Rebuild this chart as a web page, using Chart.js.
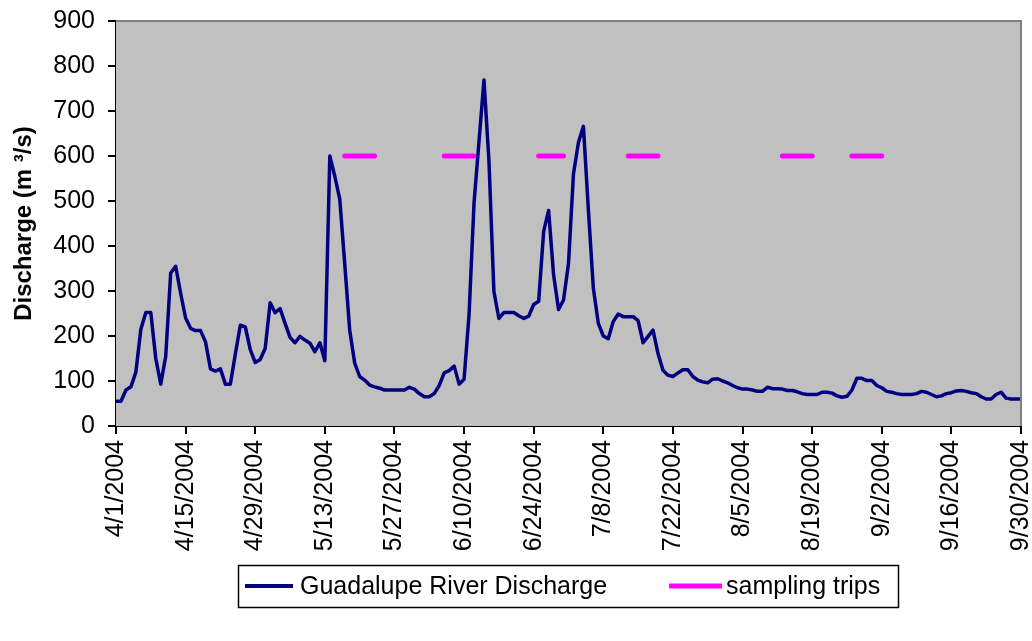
<!DOCTYPE html>
<html><head><meta charset="utf-8">
<script src="https://cdn.jsdelivr.net/npm/chart.js@4/dist/chart.umd.min.js"></script>
<style>html,body{margin:0;padding:0;background:#fff}canvas{display:block}</style>
</head><body>
<canvas id="c" width="1032" height="641"></canvas>
<script>
// Categories: every day from 4/1/2004 to 9/30/2004
const firstDay = '4/1/2004';
const lastDay = '9/30/2004';
const categories = [];
(function(){
  const d = new Date(2004, 3, 1), end = new Date(2004, 8, 30);
  while (d <= end) { categories.push((d.getMonth()+1)+'/'+d.getDate()+'/'+d.getFullYear()); d.setDate(d.getDate()+1); }
})();

// Tick labels shown on the x axis
const tickLabels = ['4/1/2004','4/15/2004','4/29/2004','5/13/2004','5/27/2004','6/10/2004','6/24/2004',
  '7/8/2004','7/22/2004','8/5/2004','8/19/2004','9/2/2004','9/16/2004','9/30/2004'];

// Guadalupe River daily discharge (m3/s)
const discharge = [
  55,55,80,87,120,215,252,252,150,93,
  155,340,355,295,240,217,212,212,187,127,
  122,127,93,93,160,224,220,170,141,148,
  172,274,252,261,228,197,185,199,191,184,
  165,185,145,600,555,504,360,213,140,110,
  102,91,87,84,80,80,80,80,80,86,
  82,72,65,65,72,90,118,123,133,93,
  104,247,495,632,769,590,299,239,252,252,
  252,245,239,244,270,277,432,479,336,259,
  280,361,560,630,666,480,306,228,200,194,
  232,249,243,243,243,234,185,199,213,161,
  124,113,110,118,125,125,110,102,98,96,
  104,105,100,96,90,85,82,82,80,77,
  77,86,83,83,82,79,79,76,72,70,
  70,70,75,75,73,67,64,66,80,106,
  106,101,101,90,85,77,75,72,70,70,
  70,72,77,75,70,65,67,72,74,78,
  79,77,74,72,65,60,60,70,75,62,
  60,60,60
];

// Sampling trips: start and end dates, drawn at a fixed level
const tripStarts = ['5/17/2004','6/6/2004','6/25/2004','7/13/2004','8/13/2004','8/27/2004'];
const tripEnds   = ['5/23/2004','6/12/2004','6/30/2004','7/19/2004','8/19/2004','9/2/2004'];
const tripLevel = 600;

const seriesNames = ['Guadalupe River Discharge','sampling trips'];
const yTitle = 'Discharge (m \u00B3/s)';

const trips = categories.map(() => null);
tripStarts.forEach((s, i) => {
  const a = categories.indexOf(s), b = categories.indexOf(tripEnds[i]);
  for (let k = a; k <= b; k++) trips[k] = tripLevel;
});

const FONT = '"Liberation Sans", Arial, sans-serif';
const AREA = {left:116, top:21, right:1021, bottom:426};

const bgPlugin = {
  id: 'bg',
  beforeDatasetsDraw(chart) {
    const {ctx, chartArea:a} = chart;
    ctx.save();
    ctx.fillStyle = '#C0C0C0';
    ctx.fillRect(a.left, a.top, a.right - a.left, a.bottom - a.top);
    ctx.restore();
  },
  afterDraw(chart) {
    const {ctx, chartArea:a} = chart;
    ctx.save();
    ctx.strokeStyle = '#808080';
    ctx.lineWidth = 2;
    ctx.beginPath();
    ctx.moveTo(a.left, a.top); ctx.lineTo(a.right, a.top); ctx.lineTo(a.right, a.bottom);
    ctx.stroke();
    // legend
    const bx = 238, by = 565, bw = 660, bh = 42, cy = by + bh/2;
    ctx.strokeStyle = '#000'; ctx.lineWidth = 1.5;
    ctx.strokeRect(bx + 0.5, by + 0.5, bw, bh);
    ctx.lineCap = 'butt';
    ctx.strokeStyle = '#000080'; ctx.lineWidth = 4;
    ctx.beginPath(); ctx.moveTo(245, cy); ctx.lineTo(293, cy); ctx.stroke();
    ctx.strokeStyle = '#FF00FF'; ctx.lineWidth = 5;
    ctx.beginPath(); ctx.moveTo(669, cy); ctx.lineTo(722, cy); ctx.stroke();
    ctx.fillStyle = '#000'; ctx.font = '25px ' + FONT;
    ctx.textBaseline = 'middle'; ctx.textAlign = 'left';
    ctx.fillText(seriesNames[0], 300, cy + 1);
    ctx.fillText(seriesNames[1], 726, cy + 1);
    ctx.restore();
  }
};

new Chart(document.getElementById('c'), {
  type: 'line',
  data: {
    labels: categories,
    datasets: [
      { label: seriesNames[0], data: discharge, borderColor: '#000080', borderWidth: 3.5,
        pointRadius: 0, tension: 0, fill: false, borderJoinStyle: 'round' },
      { label: seriesNames[1], data: trips, borderColor: '#FF00FF', borderWidth: 5,
        pointRadius: 0, tension: 0, fill: false, spanGaps: false, borderCapStyle: 'round' }
    ]
  },
  options: {
    responsive: false,
    animation: false,
    devicePixelRatio: 1,
    layout: { padding: { left: 0, top: AREA.top, right: 1032 - AREA.right, bottom: 0 } },
    plugins: { legend: { display: false }, tooltip: { enabled: false } },
    scales: {
      x: {
        type: 'category',
        offset: false,
        border: { display: true, color: '#000', width: 2 },
        grid: { display: true, drawOnChartArea: false, drawTicks: true, tickLength: 8, color: '#000', lineWidth: 2 },
        ticks: {
          autoSkip: false, minRotation: 90, maxRotation: 90, padding: 6,
          color: '#000', font: { family: FONT, size: 25 },
          callback: function(v, i) { const l = categories[i]; return tickLabels.includes(l) ? l : null; }
        },
        afterFit(s) { s.height = 641 - AREA.bottom; s.paddingLeft = 0; s.paddingRight = 0; }
      },
      y: {
        min: 0, max: 900,
        border: { display: true, color: '#000', width: 2 },
        grid: { display: true, drawOnChartArea: false, drawTicks: true, tickLength: 8, color: '#000', lineWidth: 2 },
        ticks: { stepSize: 100, padding: 13, color: '#000', font: { family: FONT, size: 25 } },
        title: { display: true, text: yTitle, color: '#000', font: { family: FONT, size: 24, weight: 'bold' }, padding: { top: 10, bottom: 0 } },
        afterFit(s) { s.width = AREA.left; s.paddingTop = 0; s.paddingBottom = 0; }
      }
    }
  },
  plugins: [bgPlugin]
});
</script>
</body></html>
